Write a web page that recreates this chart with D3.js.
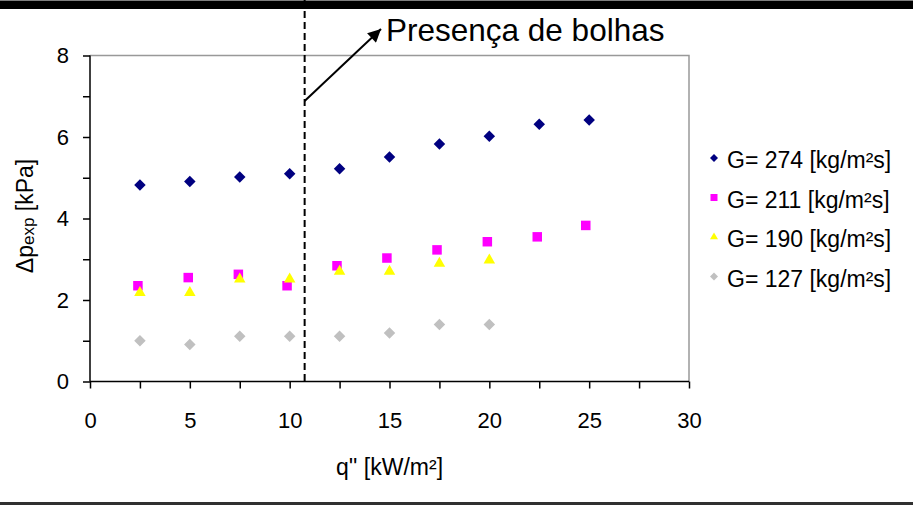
<!DOCTYPE html>
<html>
<head>
<meta charset="utf-8">
<script src="https://cdn.jsdelivr.net/npm/d3@7"></script>
<style>
  body { margin: 0; background: #fff; }
  svg { display: block; font-family: "Liberation Sans", Arial, sans-serif; }
</style>
</head>
<body>
<svg id="chart" width="913" height="506"></svg>
<script>
// heat flux q'' [kW/m2] and measured pressure drop [kPa] per mass flux G
const q274 = [2.5, 5, 7.5, 10, 12.5, 15, 17.5, 20, 22.5, 25];
const dp274 = [4.82, 4.91, 5.02, 5.10, 5.22, 5.51, 5.83, 6.02, 6.31, 6.42];
const q211 = [2.4, 4.92, 7.43, 9.87, 12.37, 14.87, 17.38, 19.9, 22.4, 24.83];
const dp211 = [2.35, 2.55, 2.63, 2.35, 2.84, 3.03, 3.23, 3.43, 3.55, 3.83];
const q190 = [2.5, 5, 7.5, 10, 12.5, 15, 17.5, 20];
const dp190 = [2.18, 2.18, 2.51, 2.51, 2.70, 2.70, 2.90, 2.98];
const q127 = [2.5, 5, 7.5, 10, 12.5, 15, 17.5, 20];
const dp127 = [1.00, 0.91, 1.11, 1.11, 1.11, 1.19, 1.40, 1.40];

const seriesNames = ["G= 274 [kg/m²s]", "G= 211 [kg/m²s]", "G= 190 [kg/m²s]", "G= 127 [kg/m²s]"];
const xTicks = [0, 2.5, 5, 7.5, 10, 12.5, 15, 17.5, 20, 22.5, 25, 27.5, 30];
const yTicks = [0, 1, 2, 3, 4, 5, 6, 7, 8];
const bubbleOnset = 10.75;   // q'' where bubbles appear
const noteText = "Presença de bolhas";

const svg = d3.select("#chart");
const x = d3.scaleLinear().domain([0, 30]).range([90, 689]);
const y = d3.scaleLinear().domain([0, 8]).range([381.5, 55.5]);

const zip = (xs, ys) => xs.map((v, i) => [v, ys[i]]);
const series = [
  { name: seriesNames[0], pts: zip(q274, dp274), color: "#000080", shape: "diamond" },
  { name: seriesNames[1], pts: zip(q211, dp211), color: "#ff00ff", shape: "square" },
  { name: seriesNames[2], pts: zip(q190, dp190), color: "#ffff00", shape: "triangle" },
  { name: seriesNames[3], pts: zip(q127, dp127), color: "#c0c0c0", shape: "diamond" }
];

/** marker path generator, size in px (full width of the marker) */
function marker(shape, s) {
  if (shape === "diamond")
    return d3.symbol(d3.symbolSquare, (s / Math.SQRT2) ** 2)();
  if (shape === "square")
    return d3.symbol(d3.symbolSquare, s * s)();
  return d3.symbol(d3.symbolTriangle, Math.sqrt(3) / 4 * s * s)();
}
const rot = shape => shape === "diamond" ? " rotate(45)" : "";

// frame lines: thick bar on top, thin rule at the bottom
svg.append("rect").attr("x", 0).attr("y", 0.5).attr("width", 913).attr("height", 8.5).attr("fill", "#000");
svg.append("rect").attr("x", 0).attr("y", 502).attr("width", 913).attr("height", 3).attr("fill", "#303030");

// plot area border (top / right)
svg.append("path")
  .attr("d", `M${x(0)},${y(8)}H${x(30)}V${y(0)}`)
  .attr("fill", "none").attr("stroke", "#999").attr("stroke-width", 1.5);

const gx = svg.append("g").attr("transform", `translate(0,${y(0)})`)
  .call(d3.axisBottom(x).tickValues(xTicks).tickSize(7).tickPadding(24)
    .tickFormat(d => d % 5 === 0 ? d : ""));
const gy = svg.append("g").attr("transform", `translate(${x(0)},0)`)
  .call(d3.axisLeft(y).tickValues(yTicks).tickSize(7).tickPadding(14)
    .tickFormat(d => d % 2 === 0 ? d : ""));
[gx, gy].forEach(g => {
  g.select(".domain").attr("stroke", "#000").attr("stroke-width", 1.5);
  g.selectAll(".tick line").attr("stroke", "#000").attr("stroke-width", 1.5);
  g.selectAll("text").attr("font-size", 22).attr("fill", "#000").attr("font-family", null);
});
gx.select(".domain").attr("d", `M${x(0)},0H${x(30)}`);
gy.select(".domain").attr("d", `M0,${y(8)}V${y(0)}`);

// data markers
series.forEach(s => {
  svg.append("g").selectAll("path").data(s.pts).join("path")
    .attr("d", marker(s.shape, s.shape === "square" ? 9.5 : 11.5))
    .attr("transform", d => `translate(${x(d[0])},${y(d[1])})` + rot(s.shape))
    .attr("fill", s.color);
});

// onset of bubbles: dashed line and arrow with note
svg.append("line")
  .attr("x1", x(bubbleOnset)).attr("x2", x(bubbleOnset))
  .attr("y1", 0).attr("y2", y(0))
  .attr("stroke", "#000").attr("stroke-width", 2).attr("stroke-dasharray", "7,4");

svg.append("defs").append("marker")
  .attr("id", "arrowhead").attr("viewBox", "0 0 10 10")
  .attr("refX", 10).attr("refY", 5)
  .attr("markerWidth", 16).attr("markerHeight", 13)
  .attr("markerUnits", "userSpaceOnUse").attr("orient", "auto")
  .append("path").attr("d", "M0,0L10,5L0,10Z").attr("fill", "#000");
svg.append("line")
  .attr("x1", x(bubbleOnset)).attr("y1", 101)
  .attr("x2", 381).attr("y2", 29)
  .attr("stroke", "#000").attr("stroke-width", 2)
  .attr("marker-end", "url(#arrowhead)");
svg.append("text").attr("x", 386).attr("y", 41)
  .attr("font-size", 31.5).text(noteText);

// axis titles
svg.append("text").attr("x", x(15)).attr("y", 475)
  .attr("text-anchor", "middle").attr("font-size", 23).text("q'' [kW/m²]");
const yl = svg.append("text")
  .attr("transform", "translate(33,216) rotate(-90)")
  .attr("text-anchor", "middle").attr("font-size", 23);
yl.append("tspan").text("Δp");
yl.append("tspan").attr("font-size", 17).attr("dy", 1).text("exp");
yl.append("tspan").attr("dy", -1).text(" [kPa]");

// legend
const lg = svg.append("g").selectAll("g").data(series).join("g")
  .attr("transform", (d, i) => `translate(714,${158 + i * 39.5})`);
lg.append("path")
  .attr("d", d => marker(d.shape, d.shape === "square" ? 7 : 8))
  .attr("transform", d => rot(d.shape).trim())
  .attr("fill", d => d.color);
lg.append("text").attr("x", 13).attr("y", 10)
  .attr("font-size", 23).text(d => d.name);
</script>
</body>
</html>
